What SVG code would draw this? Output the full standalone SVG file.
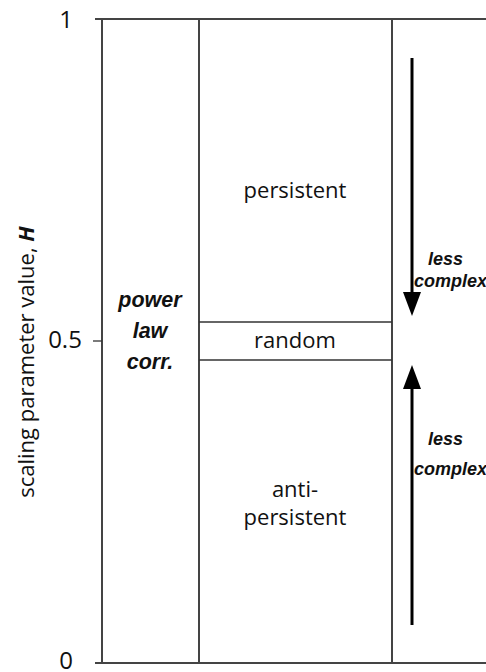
<svg xmlns="http://www.w3.org/2000/svg" width="486" height="672" viewBox="0 0 486 672">
<style>
.ax{stroke:#444;stroke-width:2;fill:none}
.thin{stroke:#333;stroke-width:1.3;fill:none}
.t{font-family:"Open Sans","Noto Sans",sans-serif;font-size:22px;fill:#111;text-anchor:middle}
.n{font-family:"Open Sans","Noto Sans",sans-serif;font-size:24px;fill:#111;text-anchor:middle}
.b{font-family:"Liberation Sans",Arial,sans-serif;font-size:21.5px;font-weight:bold;font-style:italic;fill:#111;text-anchor:middle}
.s{font-family:"Liberation Sans",Arial,sans-serif;font-size:18px;font-weight:bold;font-style:italic;fill:#111}
.arr{stroke:#000;stroke-width:3;fill:none}
</style>
<g id="axes">
<line class="ax" x1="95" y1="19" x2="486" y2="19"/>
<line class="ax" x1="95" y1="663" x2="486" y2="663"/>
<line class="ax" x1="102" y1="19" x2="102" y2="663"/>
<line class="thin" x1="93" y1="341" x2="102" y2="341"/>
<text class="n" x="66" y="28">1</text>
<text class="n" x="65" y="348">0.5</text>
<text class="n" x="66" y="669">0</text>
<text class="t" transform="translate(34,362) rotate(-90)">scaling parameter value, <tspan style="font-weight:bold;font-style:italic">H</tspan></text>
</g>
<g id="col-power">
<line class="ax" x1="199" y1="19" x2="199" y2="663"/>
<text class="b" x="150" y="307">power</text>
<text class="b" x="150" y="338">law</text>
<text class="b" x="150" y="369">corr.</text>
</g>
<g id="col-regimes">
<line class="ax" x1="392" y1="19" x2="392" y2="663"/>
<line class="thin" x1="199" y1="322" x2="392" y2="322"/>
<line class="thin" x1="199" y1="360" x2="392" y2="360"/>
<text class="t" x="295" y="198">persistent</text>
<text class="t" x="295" y="348">random</text>
<text class="t" x="295" y="497">anti-</text>
<text class="t" x="295" y="525">persistent</text>
</g>
<g id="connectors">
<line class="arr" x1="412" y1="58" x2="412" y2="296"/>
<polygon points="403,292 421,292 412,316" fill="#000"/>
<line class="arr" x1="412" y1="385" x2="412" y2="625"/>
<polygon points="403,389 421,389 412,365" fill="#000"/>
</g>
<g id="labels-right">
<text class="s" x="428" y="265">less</text>
<text class="s" x="414" y="287">complex</text>
<text class="s" x="428" y="445">less</text>
<text class="s" x="414" y="475">complex</text>
</g>
</svg>
